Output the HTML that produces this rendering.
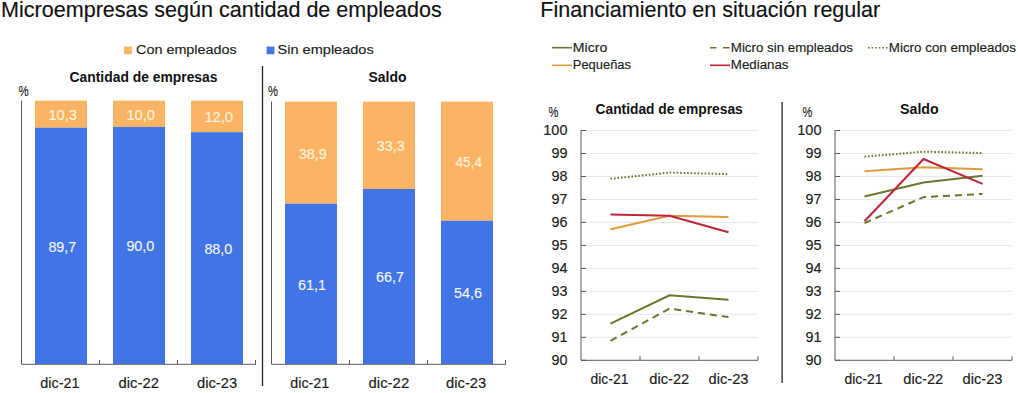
<!DOCTYPE html>
<html><head><meta charset="utf-8"><style>
html,body{margin:0;padding:0;background:#fff;width:1018px;height:393px;overflow:hidden}
svg{display:block}
text{font-family:"Liberation Sans", sans-serif}
</style></head><body>
<svg width="1018" height="393" viewBox="0 0 1018 393">
<rect width="1018" height="393" fill="#fff"/>
<text x="221.42" y="16.9" font-size="21.5" text-anchor="middle" font-weight="normal" fill="#111" stroke="#111" stroke-width="0.15" textLength="440.60" lengthAdjust="spacingAndGlyphs">Microempresas según cantidad de empleados</text>
<text x="710.30" y="16.9" font-size="21.5" text-anchor="middle" font-weight="normal" fill="#111" stroke="#111" stroke-width="0.15" textLength="339.88" lengthAdjust="spacingAndGlyphs">Financiamiento en situación regular</text>
<rect x="123.8" y="46.6" width="8" height="7.6" fill="#FBB364"/>
<text x="186.37" y="54.4" font-size="13.7" text-anchor="middle" font-weight="normal" fill="#1c1c1c" stroke="#1c1c1c" stroke-width="0.15" textLength="100.64" lengthAdjust="spacingAndGlyphs">Con empleados</text>
<rect x="266.6" y="46.6" width="7.8" height="7.6" fill="#4175E6"/>
<text x="325.64" y="54.4" font-size="13.7" text-anchor="middle" font-weight="normal" fill="#1c1c1c" stroke="#1c1c1c" stroke-width="0.15" textLength="96.20" lengthAdjust="spacingAndGlyphs">Sin empleados</text>
<line x1="262.5" y1="66" x2="262.5" y2="386" stroke="#222" stroke-width="1.3"/>
<text x="23.50" y="95.6" font-size="14.8" text-anchor="middle" font-weight="normal" fill="#1c1c1c" stroke="#1c1c1c" stroke-width="0.15" textLength="10.20" lengthAdjust="spacingAndGlyphs">%</text>
<line x1="21.5" y1="100.6" x2="21.5" y2="364" stroke="#5a5a5a" stroke-width="1"/>
<line x1="21.5" y1="364.3" x2="256.0" y2="364.3" stroke="#5a5a5a" stroke-width="1"/>
<line x1="99.5" y1="360" x2="99.5" y2="364" stroke="#5a5a5a" stroke-width="1"/>
<line x1="177.5" y1="360" x2="177.5" y2="364" stroke="#5a5a5a" stroke-width="1"/>
<line x1="255.5" y1="360" x2="255.5" y2="364" stroke="#5a5a5a" stroke-width="1"/>
<text x="143.53" y="82" font-size="14.5" text-anchor="middle" font-weight="bold" fill="#111" textLength="147.94" lengthAdjust="spacingAndGlyphs">Cantidad de empresas</text>
<rect x="35.0" y="100.6" width="52" height="27.13" fill="#FBB364"/>
<rect x="35.0" y="127.73" width="52" height="236.27" fill="#4175E6"/>
<text x="62.74" y="120.17" font-size="15.3" text-anchor="middle" font-weight="normal" fill="#FFF3DC" stroke="#FFF3DC" stroke-width="0.15" textLength="28.70" lengthAdjust="spacingAndGlyphs">10,3</text>
<text x="62.39" y="251.87" font-size="15.3" text-anchor="middle" font-weight="normal" fill="#F0F4FF" stroke="#F0F4FF" stroke-width="0.15" textLength="28.00" lengthAdjust="spacingAndGlyphs">89,7</text>
<text x="59.88" y="387.5" font-size="13.9" text-anchor="middle" font-weight="normal" fill="#1c1c1c" stroke="#1c1c1c" stroke-width="0.15" textLength="39.16" lengthAdjust="spacingAndGlyphs">dic-21</text>
<rect x="113.0" y="100.6" width="52" height="26.34" fill="#FBB364"/>
<rect x="113.0" y="126.94" width="52" height="237.06" fill="#4175E6"/>
<text x="140.74" y="119.77" font-size="15.3" text-anchor="middle" font-weight="normal" fill="#FFF3DC" stroke="#FFF3DC" stroke-width="0.15" textLength="28.70" lengthAdjust="spacingAndGlyphs">10,0</text>
<text x="140.39" y="251.47" font-size="15.3" text-anchor="middle" font-weight="normal" fill="#F0F4FF" stroke="#F0F4FF" stroke-width="0.15" textLength="28.00" lengthAdjust="spacingAndGlyphs">90,0</text>
<text x="138.76" y="387.5" font-size="13.9" text-anchor="middle" font-weight="normal" fill="#1c1c1c" stroke="#1c1c1c" stroke-width="0.15" textLength="40.44" lengthAdjust="spacingAndGlyphs">dic-22</text>
<rect x="191.0" y="100.6" width="52" height="31.61" fill="#FBB364"/>
<rect x="191.0" y="132.21" width="52" height="231.79" fill="#4175E6"/>
<text x="218.74" y="122.4" font-size="15.3" text-anchor="middle" font-weight="normal" fill="#FFF3DC" stroke="#FFF3DC" stroke-width="0.15" textLength="28.70" lengthAdjust="spacingAndGlyphs">12,0</text>
<text x="218.39" y="254.1" font-size="15.3" text-anchor="middle" font-weight="normal" fill="#F0F4FF" stroke="#F0F4FF" stroke-width="0.15" textLength="28.00" lengthAdjust="spacingAndGlyphs">88,0</text>
<text x="217.11" y="387.5" font-size="13.9" text-anchor="middle" font-weight="normal" fill="#1c1c1c" stroke="#1c1c1c" stroke-width="0.15" textLength="40.18" lengthAdjust="spacingAndGlyphs">dic-23</text>
<text x="273.00" y="95.6" font-size="14.8" text-anchor="middle" font-weight="normal" fill="#1c1c1c" stroke="#1c1c1c" stroke-width="0.15" textLength="10.00" lengthAdjust="spacingAndGlyphs">%</text>
<line x1="271.5" y1="101.6" x2="271.5" y2="364" stroke="#5a5a5a" stroke-width="1"/>
<line x1="271.5" y1="364.3" x2="506.0" y2="364.3" stroke="#5a5a5a" stroke-width="1"/>
<line x1="349.5" y1="360" x2="349.5" y2="364" stroke="#5a5a5a" stroke-width="1"/>
<line x1="427.5" y1="360" x2="427.5" y2="364" stroke="#5a5a5a" stroke-width="1"/>
<line x1="505.5" y1="360" x2="505.5" y2="364" stroke="#5a5a5a" stroke-width="1"/>
<text x="387.51" y="81.5" font-size="14.5" text-anchor="middle" font-weight="bold" fill="#111" textLength="37.98" lengthAdjust="spacingAndGlyphs">Saldo</text>
<rect x="285.0" y="101.6" width="52" height="102.07" fill="#FBB364"/>
<rect x="285.0" y="203.67" width="52" height="160.33" fill="#4175E6"/>
<text x="312.72" y="158.64" font-size="15.3" text-anchor="middle" font-weight="normal" fill="#FFF3DC" stroke="#FFF3DC" stroke-width="0.15" textLength="28.00" lengthAdjust="spacingAndGlyphs">38,9</text>
<text x="312.02" y="289.84" font-size="15.3" text-anchor="middle" font-weight="normal" fill="#F0F4FF" stroke="#F0F4FF" stroke-width="0.15" textLength="28.00" lengthAdjust="spacingAndGlyphs">61,1</text>
<text x="309.76" y="387.5" font-size="13.9" text-anchor="middle" font-weight="normal" fill="#1c1c1c" stroke="#1c1c1c" stroke-width="0.15" textLength="38.96" lengthAdjust="spacingAndGlyphs">dic-21</text>
<rect x="363.0" y="101.6" width="52" height="87.38" fill="#FBB364"/>
<rect x="363.0" y="188.98" width="52" height="175.02" fill="#4175E6"/>
<text x="390.72" y="151.29" font-size="15.3" text-anchor="middle" font-weight="normal" fill="#FFF3DC" stroke="#FFF3DC" stroke-width="0.15" textLength="28.00" lengthAdjust="spacingAndGlyphs">33,3</text>
<text x="390.02" y="282.49" font-size="15.3" text-anchor="middle" font-weight="normal" fill="#F0F4FF" stroke="#F0F4FF" stroke-width="0.15" textLength="28.00" lengthAdjust="spacingAndGlyphs">66,7</text>
<text x="388.85" y="387.5" font-size="13.9" text-anchor="middle" font-weight="normal" fill="#1c1c1c" stroke="#1c1c1c" stroke-width="0.15" textLength="40.70" lengthAdjust="spacingAndGlyphs">dic-22</text>
<rect x="441.0" y="101.6" width="52" height="119.13" fill="#FBB364"/>
<rect x="441.0" y="220.73" width="52" height="143.27" fill="#4175E6"/>
<text x="468.72" y="167.16" font-size="15.3" text-anchor="middle" font-weight="normal" fill="#FFF3DC" stroke="#FFF3DC" stroke-width="0.15" textLength="26.60" lengthAdjust="spacingAndGlyphs">45,4</text>
<text x="468.02" y="298.36" font-size="15.3" text-anchor="middle" font-weight="normal" fill="#F0F4FF" stroke="#F0F4FF" stroke-width="0.15" textLength="28.00" lengthAdjust="spacingAndGlyphs">54,6</text>
<text x="466.12" y="387.5" font-size="13.9" text-anchor="middle" font-weight="normal" fill="#1c1c1c" stroke="#1c1c1c" stroke-width="0.15" textLength="40.20" lengthAdjust="spacingAndGlyphs">dic-23</text>
<line x1="552" y1="47.7" x2="572" y2="47.7" stroke="#67792A" stroke-width="1.6"/>
<text x="590.02" y="51.6" font-size="12.5" text-anchor="middle" font-weight="normal" fill="#1c1c1c" stroke="#1c1c1c" stroke-width="0.15" textLength="34.44" lengthAdjust="spacingAndGlyphs">Micro</text>
<line x1="552" y1="65.3" x2="572" y2="65.3" stroke="#E49A3A" stroke-width="1.6"/>
<text x="601.90" y="69.2" font-size="12.5" text-anchor="middle" font-weight="normal" fill="#1c1c1c" stroke="#1c1c1c" stroke-width="0.15" textLength="58.20" lengthAdjust="spacingAndGlyphs">Pequeñas</text>
<line x1="710" y1="47.7" x2="730" y2="47.7" stroke="#67792A" stroke-width="1.6" stroke-dasharray="6.5,6.5"/>
<text x="791.90" y="51.6" font-size="12.5" text-anchor="middle" font-weight="normal" fill="#1c1c1c" stroke="#1c1c1c" stroke-width="0.15" textLength="122.20" lengthAdjust="spacingAndGlyphs">Micro sin empleados</text>
<line x1="710" y1="65.3" x2="730" y2="65.3" stroke="#BF2438" stroke-width="1.6"/>
<text x="759.65" y="69.2" font-size="12.5" text-anchor="middle" font-weight="normal" fill="#1c1c1c" stroke="#1c1c1c" stroke-width="0.15" textLength="57.70" lengthAdjust="spacingAndGlyphs">Medianas</text>
<line x1="868" y1="47.7" x2="888" y2="47.7" stroke="#67792A" stroke-width="1.6" stroke-dasharray="1.6,2"/>
<text x="952.39" y="51.6" font-size="12.5" text-anchor="middle" font-weight="normal" fill="#1c1c1c" stroke="#1c1c1c" stroke-width="0.15" textLength="127.18" lengthAdjust="spacingAndGlyphs">Micro con empleados</text>
<line x1="782.1" y1="102" x2="782.1" y2="383" stroke="#222" stroke-width="1.3"/>
<text x="553.55" y="116.8" font-size="14" text-anchor="middle" font-weight="normal" fill="#1c1c1c" stroke="#1c1c1c" stroke-width="0.15" textLength="9.90" lengthAdjust="spacingAndGlyphs">%</text>
<text x="669.12" y="114.3" font-size="14.5" text-anchor="middle" font-weight="bold" fill="#111" textLength="147.24" lengthAdjust="spacingAndGlyphs">Cantidad de empresas</text>
<line x1="581" y1="360.30" x2="586" y2="360.30" stroke="#5a5a5a" stroke-width="1"/>
<text x="559.50" y="364.8" font-size="14" text-anchor="middle" font-weight="normal" fill="#1c1c1c" stroke="#1c1c1c" stroke-width="0.15" textLength="16.00" lengthAdjust="spacingAndGlyphs">90</text>
<line x1="581" y1="337.32" x2="758" y2="337.32" stroke="#e8e8e8" stroke-width="1"/>
<line x1="581" y1="337.32" x2="586" y2="337.32" stroke="#5a5a5a" stroke-width="1"/>
<text x="559.50" y="341.82" font-size="14" text-anchor="middle" font-weight="normal" fill="#1c1c1c" stroke="#1c1c1c" stroke-width="0.15" textLength="16.00" lengthAdjust="spacingAndGlyphs">91</text>
<line x1="581" y1="314.34" x2="758" y2="314.34" stroke="#e8e8e8" stroke-width="1"/>
<line x1="581" y1="314.34" x2="586" y2="314.34" stroke="#5a5a5a" stroke-width="1"/>
<text x="559.50" y="318.84" font-size="14" text-anchor="middle" font-weight="normal" fill="#1c1c1c" stroke="#1c1c1c" stroke-width="0.15" textLength="16.00" lengthAdjust="spacingAndGlyphs">92</text>
<line x1="581" y1="291.36" x2="758" y2="291.36" stroke="#e8e8e8" stroke-width="1"/>
<line x1="581" y1="291.36" x2="586" y2="291.36" stroke="#5a5a5a" stroke-width="1"/>
<text x="559.50" y="295.86" font-size="14" text-anchor="middle" font-weight="normal" fill="#1c1c1c" stroke="#1c1c1c" stroke-width="0.15" textLength="16.00" lengthAdjust="spacingAndGlyphs">93</text>
<line x1="581" y1="268.38" x2="758" y2="268.38" stroke="#e8e8e8" stroke-width="1"/>
<line x1="581" y1="268.38" x2="586" y2="268.38" stroke="#5a5a5a" stroke-width="1"/>
<text x="559.50" y="272.88" font-size="14" text-anchor="middle" font-weight="normal" fill="#1c1c1c" stroke="#1c1c1c" stroke-width="0.15" textLength="16.00" lengthAdjust="spacingAndGlyphs">94</text>
<line x1="581" y1="245.40" x2="758" y2="245.40" stroke="#e8e8e8" stroke-width="1"/>
<line x1="581" y1="245.40" x2="586" y2="245.40" stroke="#5a5a5a" stroke-width="1"/>
<text x="559.50" y="249.9" font-size="14" text-anchor="middle" font-weight="normal" fill="#1c1c1c" stroke="#1c1c1c" stroke-width="0.15" textLength="16.00" lengthAdjust="spacingAndGlyphs">95</text>
<line x1="581" y1="222.42" x2="758" y2="222.42" stroke="#e8e8e8" stroke-width="1"/>
<line x1="581" y1="222.42" x2="586" y2="222.42" stroke="#5a5a5a" stroke-width="1"/>
<text x="559.50" y="226.92" font-size="14" text-anchor="middle" font-weight="normal" fill="#1c1c1c" stroke="#1c1c1c" stroke-width="0.15" textLength="16.00" lengthAdjust="spacingAndGlyphs">96</text>
<line x1="581" y1="199.44" x2="758" y2="199.44" stroke="#e8e8e8" stroke-width="1"/>
<line x1="581" y1="199.44" x2="586" y2="199.44" stroke="#5a5a5a" stroke-width="1"/>
<text x="559.50" y="203.94" font-size="14" text-anchor="middle" font-weight="normal" fill="#1c1c1c" stroke="#1c1c1c" stroke-width="0.15" textLength="16.00" lengthAdjust="spacingAndGlyphs">97</text>
<line x1="581" y1="176.46" x2="758" y2="176.46" stroke="#e8e8e8" stroke-width="1"/>
<line x1="581" y1="176.46" x2="586" y2="176.46" stroke="#5a5a5a" stroke-width="1"/>
<text x="559.50" y="180.96" font-size="14" text-anchor="middle" font-weight="normal" fill="#1c1c1c" stroke="#1c1c1c" stroke-width="0.15" textLength="16.00" lengthAdjust="spacingAndGlyphs">98</text>
<line x1="581" y1="153.48" x2="758" y2="153.48" stroke="#e8e8e8" stroke-width="1"/>
<line x1="581" y1="153.48" x2="586" y2="153.48" stroke="#5a5a5a" stroke-width="1"/>
<text x="559.50" y="157.98" font-size="14" text-anchor="middle" font-weight="normal" fill="#1c1c1c" stroke="#1c1c1c" stroke-width="0.15" textLength="16.00" lengthAdjust="spacingAndGlyphs">99</text>
<line x1="581" y1="130.50" x2="758" y2="130.50" stroke="#e8e8e8" stroke-width="1"/>
<line x1="581" y1="130.50" x2="586" y2="130.50" stroke="#5a5a5a" stroke-width="1"/>
<text x="555.40" y="135.0" font-size="14" text-anchor="middle" font-weight="normal" fill="#1c1c1c" stroke="#1c1c1c" stroke-width="0.15" textLength="24.20" lengthAdjust="spacingAndGlyphs">100</text>
<line x1="581" y1="130.5" x2="581" y2="360.3" stroke="#5a5a5a" stroke-width="1"/>
<line x1="581" y1="360.3" x2="758" y2="360.3" stroke="#5a5a5a" stroke-width="1"/>
<line x1="640" y1="356.3" x2="640" y2="360.3" stroke="#5a5a5a" stroke-width="1"/>
<line x1="699" y1="356.3" x2="699" y2="360.3" stroke="#5a5a5a" stroke-width="1"/>
<line x1="758" y1="356.3" x2="758" y2="360.3" stroke="#5a5a5a" stroke-width="1"/>
<text x="609.48" y="383.8" font-size="13.9" text-anchor="middle" font-weight="normal" fill="#1c1c1c" stroke="#1c1c1c" stroke-width="0.15" textLength="37.96" lengthAdjust="spacingAndGlyphs">dic-21</text>
<text x="669.26" y="383.8" font-size="13.9" text-anchor="middle" font-weight="normal" fill="#1c1c1c" stroke="#1c1c1c" stroke-width="0.15" textLength="39.96" lengthAdjust="spacingAndGlyphs">dic-22</text>
<text x="728.49" y="383.8" font-size="13.9" text-anchor="middle" font-weight="normal" fill="#1c1c1c" stroke="#1c1c1c" stroke-width="0.15" textLength="39.98" lengthAdjust="spacingAndGlyphs">dic-23</text>
<polyline points="610.50,178.76 669.50,172.55 728.50,174.16" fill="none" stroke="#67792A" stroke-width="2" stroke-dasharray="1.6,1.9"/>
<polyline points="610.50,229.31 669.50,215.76 728.50,216.90" fill="none" stroke="#E49A3A" stroke-width="2"/>
<polyline points="610.50,214.38 669.50,215.76 728.50,232.30" fill="none" stroke="#BF2438" stroke-width="2"/>
<polyline points="610.50,323.53 669.50,295.27 728.50,299.86" fill="none" stroke="#67792A" stroke-width="2"/>
<polyline points="610.50,340.77 669.50,308.60 728.50,317.10" fill="none" stroke="#67792A" stroke-width="2" stroke-dasharray="7,5"/>
<text x="807.40" y="116.8" font-size="14" text-anchor="middle" font-weight="normal" fill="#1c1c1c" stroke="#1c1c1c" stroke-width="0.15" textLength="9.80" lengthAdjust="spacingAndGlyphs">%</text>
<text x="919.38" y="114.3" font-size="14.5" text-anchor="middle" font-weight="bold" fill="#111" textLength="38.68" lengthAdjust="spacingAndGlyphs">Saldo</text>
<line x1="835" y1="360.30" x2="840" y2="360.30" stroke="#5a5a5a" stroke-width="1"/>
<text x="813.50" y="364.8" font-size="14" text-anchor="middle" font-weight="normal" fill="#1c1c1c" stroke="#1c1c1c" stroke-width="0.15" textLength="16.00" lengthAdjust="spacingAndGlyphs">90</text>
<line x1="835" y1="337.32" x2="1012" y2="337.32" stroke="#e8e8e8" stroke-width="1"/>
<line x1="835" y1="337.32" x2="840" y2="337.32" stroke="#5a5a5a" stroke-width="1"/>
<text x="813.50" y="341.82" font-size="14" text-anchor="middle" font-weight="normal" fill="#1c1c1c" stroke="#1c1c1c" stroke-width="0.15" textLength="16.00" lengthAdjust="spacingAndGlyphs">91</text>
<line x1="835" y1="314.34" x2="1012" y2="314.34" stroke="#e8e8e8" stroke-width="1"/>
<line x1="835" y1="314.34" x2="840" y2="314.34" stroke="#5a5a5a" stroke-width="1"/>
<text x="813.50" y="318.84" font-size="14" text-anchor="middle" font-weight="normal" fill="#1c1c1c" stroke="#1c1c1c" stroke-width="0.15" textLength="16.00" lengthAdjust="spacingAndGlyphs">92</text>
<line x1="835" y1="291.36" x2="1012" y2="291.36" stroke="#e8e8e8" stroke-width="1"/>
<line x1="835" y1="291.36" x2="840" y2="291.36" stroke="#5a5a5a" stroke-width="1"/>
<text x="813.50" y="295.86" font-size="14" text-anchor="middle" font-weight="normal" fill="#1c1c1c" stroke="#1c1c1c" stroke-width="0.15" textLength="16.00" lengthAdjust="spacingAndGlyphs">93</text>
<line x1="835" y1="268.38" x2="1012" y2="268.38" stroke="#e8e8e8" stroke-width="1"/>
<line x1="835" y1="268.38" x2="840" y2="268.38" stroke="#5a5a5a" stroke-width="1"/>
<text x="813.50" y="272.88" font-size="14" text-anchor="middle" font-weight="normal" fill="#1c1c1c" stroke="#1c1c1c" stroke-width="0.15" textLength="16.00" lengthAdjust="spacingAndGlyphs">94</text>
<line x1="835" y1="245.40" x2="1012" y2="245.40" stroke="#e8e8e8" stroke-width="1"/>
<line x1="835" y1="245.40" x2="840" y2="245.40" stroke="#5a5a5a" stroke-width="1"/>
<text x="813.50" y="249.9" font-size="14" text-anchor="middle" font-weight="normal" fill="#1c1c1c" stroke="#1c1c1c" stroke-width="0.15" textLength="16.00" lengthAdjust="spacingAndGlyphs">95</text>
<line x1="835" y1="222.42" x2="1012" y2="222.42" stroke="#e8e8e8" stroke-width="1"/>
<line x1="835" y1="222.42" x2="840" y2="222.42" stroke="#5a5a5a" stroke-width="1"/>
<text x="813.50" y="226.92" font-size="14" text-anchor="middle" font-weight="normal" fill="#1c1c1c" stroke="#1c1c1c" stroke-width="0.15" textLength="16.00" lengthAdjust="spacingAndGlyphs">96</text>
<line x1="835" y1="199.44" x2="1012" y2="199.44" stroke="#e8e8e8" stroke-width="1"/>
<line x1="835" y1="199.44" x2="840" y2="199.44" stroke="#5a5a5a" stroke-width="1"/>
<text x="813.50" y="203.94" font-size="14" text-anchor="middle" font-weight="normal" fill="#1c1c1c" stroke="#1c1c1c" stroke-width="0.15" textLength="16.00" lengthAdjust="spacingAndGlyphs">97</text>
<line x1="835" y1="176.46" x2="1012" y2="176.46" stroke="#e8e8e8" stroke-width="1"/>
<line x1="835" y1="176.46" x2="840" y2="176.46" stroke="#5a5a5a" stroke-width="1"/>
<text x="813.50" y="180.96" font-size="14" text-anchor="middle" font-weight="normal" fill="#1c1c1c" stroke="#1c1c1c" stroke-width="0.15" textLength="16.00" lengthAdjust="spacingAndGlyphs">98</text>
<line x1="835" y1="153.48" x2="1012" y2="153.48" stroke="#e8e8e8" stroke-width="1"/>
<line x1="835" y1="153.48" x2="840" y2="153.48" stroke="#5a5a5a" stroke-width="1"/>
<text x="813.50" y="157.98" font-size="14" text-anchor="middle" font-weight="normal" fill="#1c1c1c" stroke="#1c1c1c" stroke-width="0.15" textLength="16.00" lengthAdjust="spacingAndGlyphs">99</text>
<line x1="835" y1="130.50" x2="1012" y2="130.50" stroke="#e8e8e8" stroke-width="1"/>
<line x1="835" y1="130.50" x2="840" y2="130.50" stroke="#5a5a5a" stroke-width="1"/>
<text x="809.40" y="135.0" font-size="14" text-anchor="middle" font-weight="normal" fill="#1c1c1c" stroke="#1c1c1c" stroke-width="0.15" textLength="24.20" lengthAdjust="spacingAndGlyphs">100</text>
<line x1="835" y1="130.5" x2="835" y2="360.3" stroke="#5a5a5a" stroke-width="1"/>
<line x1="835" y1="360.3" x2="1012" y2="360.3" stroke="#5a5a5a" stroke-width="1"/>
<line x1="894" y1="356.3" x2="894" y2="360.3" stroke="#5a5a5a" stroke-width="1"/>
<line x1="953" y1="356.3" x2="953" y2="360.3" stroke="#5a5a5a" stroke-width="1"/>
<line x1="1012" y1="356.3" x2="1012" y2="360.3" stroke="#5a5a5a" stroke-width="1"/>
<text x="863.48" y="383.8" font-size="13.9" text-anchor="middle" font-weight="normal" fill="#1c1c1c" stroke="#1c1c1c" stroke-width="0.15" textLength="37.96" lengthAdjust="spacingAndGlyphs">dic-21</text>
<text x="923.26" y="383.8" font-size="13.9" text-anchor="middle" font-weight="normal" fill="#1c1c1c" stroke="#1c1c1c" stroke-width="0.15" textLength="39.96" lengthAdjust="spacingAndGlyphs">dic-22</text>
<text x="982.49" y="383.8" font-size="13.9" text-anchor="middle" font-weight="normal" fill="#1c1c1c" stroke="#1c1c1c" stroke-width="0.15" textLength="39.98" lengthAdjust="spacingAndGlyphs">dic-23</text>
<polyline points="864.50,156.70 923.50,151.64 982.50,153.02" fill="none" stroke="#67792A" stroke-width="2" stroke-dasharray="1.6,1.9"/>
<polyline points="864.50,171.17 923.50,167.27 982.50,169.34" fill="none" stroke="#E49A3A" stroke-width="2"/>
<polyline points="864.50,196.45 923.50,182.43 982.50,175.77" fill="none" stroke="#67792A" stroke-width="2"/>
<polyline points="864.50,221.27 923.50,159.00 982.50,183.81" fill="none" stroke="#BF2438" stroke-width="2"/>
<polyline points="864.50,223.11 923.50,197.14 982.50,193.92" fill="none" stroke="#67792A" stroke-width="2" stroke-dasharray="7,5"/>
</svg></body></html>
